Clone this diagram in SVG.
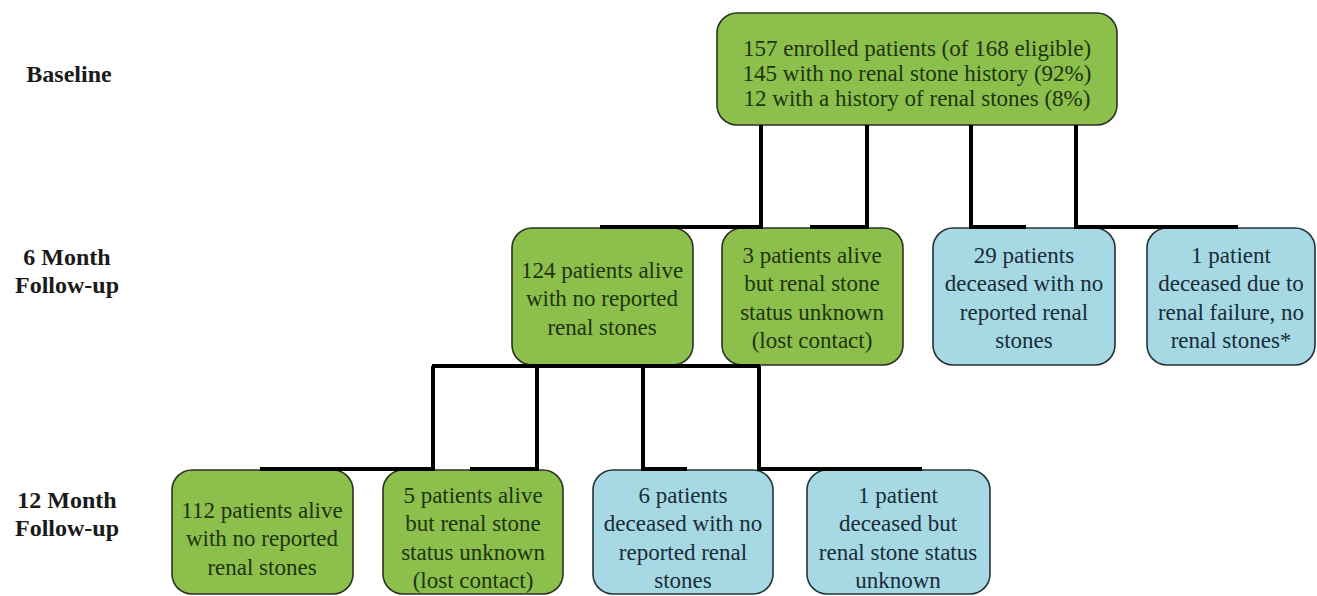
<svg xmlns="http://www.w3.org/2000/svg" width="1317" height="596" viewBox="0 0 1317 596">
<style>
.g{fill:#8cbf4c;stroke:#2a3320;stroke-width:1.6}
.b{fill:#a6d9e3;stroke:#253238;stroke-width:1.6}
.t{font-size:23px;text-anchor:middle}
.tg{fill:#1e3510}
.tb{fill:#1a2c38}
.lab{font-size:24px;font-weight:bold;text-anchor:middle;fill:#1a1a1a}
.c{stroke:#000;stroke-width:4;fill:none}
</style>
<rect width="1317" height="596" fill="#fff"/>
<g font-family="Liberation Serif, Times New Roman, DejaVu Serif, Times, serif">
<g id="labels">
<text class="lab" x="69" y="82">Baseline</text>
<text class="lab" x="67" y="265">6 Month</text>
<text class="lab" x="67" y="293">Follow-up</text>
<text class="lab" x="67" y="508">12 Month</text>
<text class="lab" x="67" y="536">Follow-up</text>
</g>
<g id="n-baseline">
<rect class="g" x="717" y="13" width="400" height="112" rx="20"/>
<text class="t tg" x="917" y="56">157 enrolled patients (of 168 eligible)</text>
<text class="t tg" x="917" y="81">145 with no renal stone history (92%)</text>
<text class="t tg" x="917" y="106">12 with a history of renal stones (8%)</text>
</g>
<g id="n-6m-alive">
<rect class="g" x="512" y="228" width="181" height="137" rx="20"/>
<text class="t tg" x="602" y="278">124 patients alive</text>
<text class="t tg" x="602" y="306">with no reported</text>
<text class="t tg" x="602" y="335">renal stones</text>
</g>
<g id="n-6m-lost">
<rect class="g" x="722" y="228" width="181" height="137" rx="20"/>
<text class="t tg" x="812" y="263">3 patients alive</text>
<text class="t tg" x="812" y="291">but renal stone</text>
<text class="t tg" x="812" y="320">status unknown</text>
<text class="t tg" x="812" y="348">(lost contact)</text>
</g>
<g id="n-6m-deceased">
<rect class="b" x="933" y="228" width="182" height="137" rx="20"/>
<text class="t tb" x="1024" y="263">29 patients</text>
<text class="t tb" x="1024" y="291">deceased with no</text>
<text class="t tb" x="1024" y="320">reported renal</text>
<text class="t tb" x="1024" y="348">stones</text>
</g>
<g id="n-6m-failure">
<rect class="b" x="1147" y="228" width="168" height="137" rx="20"/>
<text class="t tb" x="1231" y="263">1 patient</text>
<text class="t tb" x="1231" y="291">deceased due to</text>
<text class="t tb" x="1231" y="320">renal failure, no</text>
<text class="t tb" x="1231" y="348">renal stones*</text>
</g>
<g id="n-12m-alive">
<rect class="g" x="172" y="470" width="181" height="124" rx="20"/>
<text class="t tg" x="262" y="518">112 patients alive</text>
<text class="t tg" x="262" y="546">with no reported</text>
<text class="t tg" x="262" y="575">renal stones</text>
</g>
<g id="n-12m-lost">
<rect class="g" x="383" y="470" width="180" height="124" rx="20"/>
<text class="t tg" x="473" y="503">5 patients alive</text>
<text class="t tg" x="473" y="531">but renal stone</text>
<text class="t tg" x="473" y="560">status unknown</text>
<text class="t tg" x="473" y="588">(lost contact)</text>
</g>
<g id="n-12m-deceased">
<rect class="b" x="593" y="470" width="180" height="124" rx="20"/>
<text class="t tb" x="683" y="503">6 patients</text>
<text class="t tb" x="683" y="531">deceased with no</text>
<text class="t tb" x="683" y="560">reported renal</text>
<text class="t tb" x="683" y="588">stones</text>
</g>
<g id="n-12m-unknown">
<rect class="b" x="807" y="470" width="183" height="124" rx="20"/>
<text class="t tb" x="898" y="503">1 patient</text>
<text class="t tb" x="898" y="531">deceased but</text>
<text class="t tb" x="898" y="560">renal stone status</text>
<text class="t tb" x="898" y="588">unknown</text>
</g>
</g>
<g id="connectors">
<path class="c" d="M761 125V227H600"/>
<path class="c" d="M867 125V227H810"/>
<path class="c" d="M971 125V227H1026"/>
<path class="c" d="M1076 125V227H1238"/>
<path class="c" d="M432 366H760"/>
<path class="c" d="M433 366V469H260"/>
<path class="c" d="M537 366V469H470"/>
<path class="c" d="M643 366V469H687"/>
<path class="c" d="M759 366V469H922"/>
</g>
</svg>
